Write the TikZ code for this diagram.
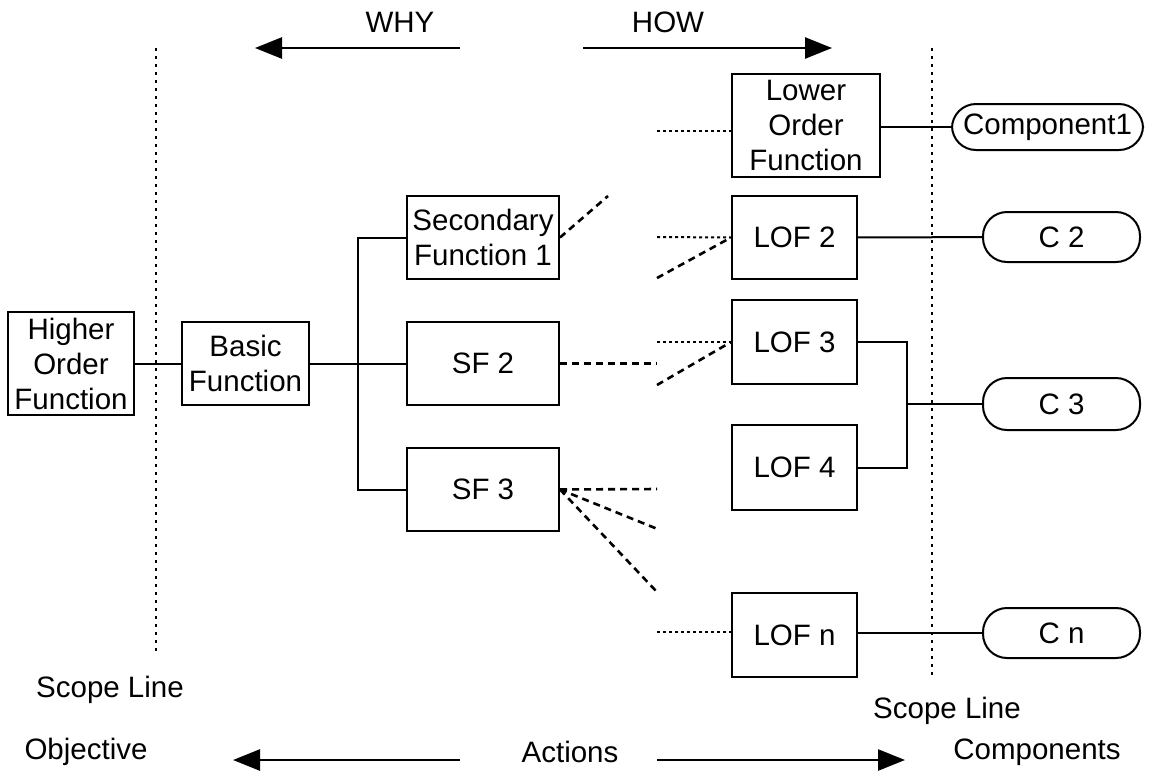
\documentclass[tikz,border=0pt]{standalone}
\usepackage{fontspec}
\setmainfont{Liberation Sans}
\usetikzlibrary{arrows.meta}
\begin{document}
\begin{tikzpicture}[x=1pt,y=-1pt,
  every node/.style={font=\fontsize{29.5}{35}\selectfont},
  fbox/.style={draw, line width=2pt, inner sep=0pt, align=center},
  comp/.style={draw, line width=2pt, inner sep=0pt, rounded corners=24pt, align=center},
  link/.style={line width=2pt},
  dots/.style={line width=2pt, dash pattern=on 3pt off 3pt},
  dsh/.style={line width=2.6pt, dash pattern=on 7pt off 5pt},
  scope/.style={line width=2.6pt, dash pattern=on 3pt off 5pt},
  bigarrow/.style={line width=2.6pt, -{Triangle[length=27pt,width=21pt]}},
  lbl/.style={inner sep=0pt}
]
\useasboundingbox (0,0) rectangle (1153,772);
% labels top
\node[lbl] (why) at (400,22) {WHY};
\node[lbl] (how) at (668,22) {HOW};
\coordinate (why1) at (460,48); \coordinate (why2) at (255,48);
\coordinate (how1) at (583,48); \coordinate (how2) at (832,48);
\draw[bigarrow] (why1) -- (why2);
\draw[bigarrow] (how1) -- (how2);
% scope lines
\coordinate (s1a) at (156,48); \coordinate (s1b) at (156,655);
\coordinate (s2a) at (932,48); \coordinate (s2b) at (932,675);
\draw[scope] (s1a) -- (s1b);
\draw[scope] (s2a) -- (s2b);
% boxes
\node[fbox, minimum width=126pt, minimum height=103pt] (hof) at (71,363.5) {Higher\\Order\\Function};
\node[fbox, minimum width=127pt, minimum height=83pt] (bf) at (245.5,363.5) {Basic\\Function};
\node[fbox, minimum width=152pt, minimum height=83pt] (sf1) at (483,237.5) {Secondary\\Function 1};
\node[fbox, minimum width=152pt, minimum height=83pt] (sf2) at (483,363.5) {SF 2};
\node[fbox, minimum width=152pt, minimum height=83pt] (sf3) at (483,489.5) {SF 3};
\node[fbox, minimum width=148pt, minimum height=103pt] (lof) at (806,125.5) {Lower\\Order\\Function};
\node[fbox, minimum width=125pt, minimum height=83pt] (lof2) at (794.5,237.5) {LOF 2};
\node[fbox, minimum width=125pt, minimum height=84pt] (lof3) at (794.5,342) {LOF 3};
\node[fbox, minimum width=125pt, minimum height=85pt] (lof4) at (794.5,467.5) {LOF 4};
\node[fbox, minimum width=125pt, minimum height=84pt] (lofn) at (794.5,635) {LOF n};
\node[comp, minimum width=191pt, minimum height=46pt] (c1) at (1047.5,127) {Component1};
\node[comp, minimum width=157pt, minimum height=50pt] (c2) at (1061.5,237) {C 2};
\node[comp, minimum width=157pt, minimum height=52pt] (c3) at (1061.5,404) {C 3};
\node[comp, minimum width=157pt, minimum height=50pt] (cn) at (1061.5,633) {C n};
% solid links
\coordinate (bus) at (358,363.5);
\coordinate (br) at (907,404);
\draw[link] (hof) -- (bf);
\draw[link] (bf) -- (bus);
\draw[link] (bus) -- (sf2);
\draw[link] (sf1.west) -| (bus);
\draw[link] (sf3.west) -| (bus);
\draw[link] (lof.east |- c1.west) -- (c1.west);
\draw[link] (lof2) -- (c2);
\draw[link] (lofn.east |- cn.west) -- (cn.west);
\draw[link] (lof3.east) -| (br);
\draw[link] (lof4.east) -| (br);
\draw[link] (br) -- (c3.west);
% dotted / dashed stubs
\coordinate (d1) at (657,131);
\coordinate (d2) at (657,237);
\coordinate (d2b) at (657,278);
\coordinate (d3) at (657,342);
\coordinate (d3b) at (657,385);
\coordinate (dn) at (657,632);
\coordinate (e1) at (608,196);
\coordinate (e2) at (657,363.5);
\coordinate (e3a) at (657,489);
\coordinate (e3b) at (660,530);
\coordinate (e3c) at (657,592);
\draw[dots] (d1) -- (lof.west |- d1);
\draw[dots] (d2) -- (lof2.west);
\draw[dsh] (d2b) -- (lof2.west);
\draw[dots] (d3) -- (lof3.west);
\draw[dsh] (d3b) -- (lof3.west);
\draw[dots] (dn) -- (lofn.west |- dn);
\draw[dsh] (sf1.east) -- (e1);
\draw[dsh] (sf2.east) -- (e2);
\draw[dsh] (sf3.east) -- (e3a);
\draw[dsh] (sf3.east) -- (e3b);
\draw[dsh] (sf3.east) -- (e3c);
% bottom
\node[lbl] (sl1) at (110,690) {Scope Line};
\node[lbl] (sl2) at (947,711) {Scope Line};
\node[lbl] (obj) at (86,752) {Objective};
\node[lbl] (act) at (570,752) {Actions};
\node[lbl] (cmp) at (1037,752) {Components};
\coordinate (a1) at (460,760); \coordinate (a2) at (233,760);
\coordinate (a3) at (657,760); \coordinate (a4) at (905,760);
\draw[bigarrow] (a1) -- (a2);
\draw[bigarrow] (a3) -- (a4);
\end{tikzpicture}
\end{document}
